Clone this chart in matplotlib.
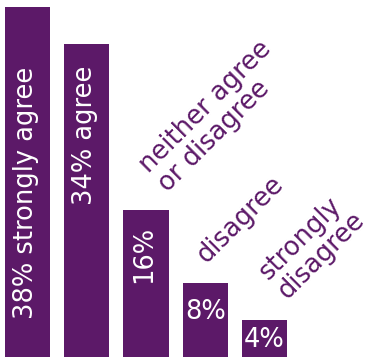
import matplotlib
matplotlib.use("Agg")
import matplotlib.pyplot as plt

# survey responses (%)
categories = ["strongly agree", "agree", "neither agree\nor disagree", "disagree", "strongly\ndisagree"]
values = [38, 34, 16, 8, 4]
inside_labels = ["38% strongly agree", "34% agree", "16%", "8%", "4%"]

PURPLE = "#5c1968"
plt.rcParams["font.family"] = ["DejaVu Sans"]

fig = plt.figure(figsize=(3.69, 3.58), dpi=100)
ax = fig.add_axes([0, 0, 1, 1])
x = list(range(len(values)))
ax.bar(x, values, width=0.76, color=PURPLE)

# px -> data: 59.25 px per bar slot, 9.2 px per percent
ax.set_xlim(-0.464, 5.764)
ax.set_ylim(-0.11, 38.8)
ax.axis("off")

# white labels inside the bars (vertical for tall bars, flat for short ones)
label_y = [17.8, 24.1, 11.1, 4.9, 1.85]
for i in range(5):
    rot = 90 if i < 3 else 0
    ax.text(x[i] - (0.03 if rot else 0), label_y[i], inside_labels[i], rotation=rot,
            ha="center", va="center", color="white", fontsize=18.5)

# diagonal category labels above the short bars (anchored at last line's start)
diag = {2: (0.35, 1.93), 3: (0.02, 2.11), 4: (0.38, 2.3)}
for i, (dx, dy) in diag.items():
    ax.text(x[i] + dx, values[i] + dy, categories[i], rotation=45,
            rotation_mode="anchor", ha="left", va="baseline",
            multialignment="left", color=PURPLE, fontsize=18.5, linespacing=1.05)

fig.savefig("out.png", dpi=100)
